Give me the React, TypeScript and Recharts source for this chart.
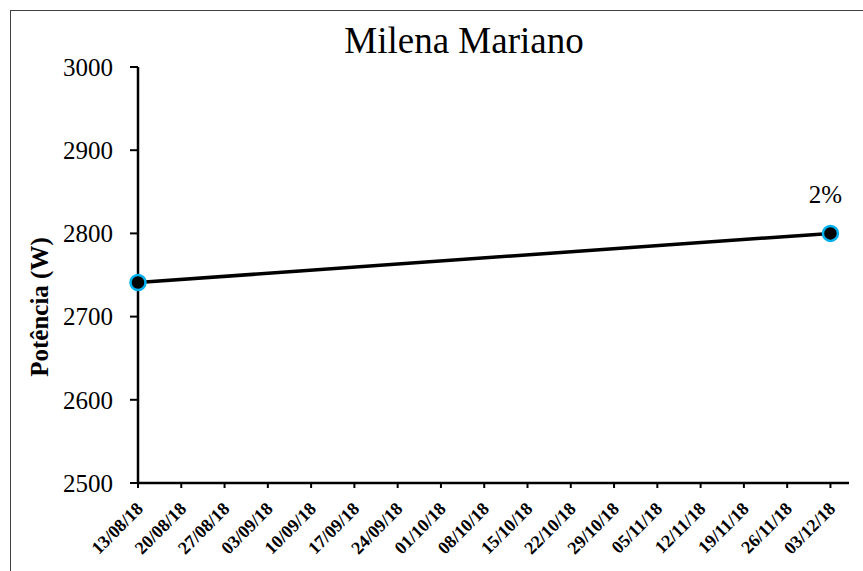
import React from 'react';
import {
  LineChart,
  Line,
  XAxis,
  YAxis,
  LabelList,
} from 'recharts';

// measurement dates (dd/mm/yy) and power readings
const dates = ['13/08/18', '03/12/18'];
const power = [2741, 2800];
const changeLabels = ['', '2%'];

const xTickLabels = [
  '13/08/18', '20/08/18', '27/08/18', '03/09/18', '10/09/18', '17/09/18',
  '24/09/18', '01/10/18', '08/10/18', '15/10/18', '22/10/18', '29/10/18',
  '05/11/18', '12/11/18', '19/11/18', '26/11/18', '03/12/18',
];
const yTicks = [2500, 2600, 2700, 2800, 2900, 3000];

const FONT = "'Liberation Serif', 'Times New Roman', serif";
const DAY = 24 * 3600 * 1000;

const toMs = (s: string) => {
  const [d, m, y] = s.split('/').map(Number);
  return Date.UTC(2000 + y, m - 1, d);
};
const start = toMs(xTickLabels[0]);
const toDay = (s: string) => Math.round((toMs(s) - start) / DAY);

const xTicks = xTickLabels.map(toDay);
const dayToLabel: Record<number, string> = {};
xTickLabels.forEach((l, i) => (dayToLabel[xTicks[i]] = l));

const chartData = dates.map((d, i) => ({
  day: toDay(d),
  value: power[i],
  label: changeLabels[i],
}));

const DateTick = (props: any) => {
  const { x, y, payload } = props;
  return (
    <g transform={`translate(${x},${y})`}>
      <text
        x={6}
        y={20}
        textAnchor="end"
        transform="rotate(-45, 6, 20)"
        style={{ fontFamily: FONT, fontWeight: 700, fontSize: 18, fill: '#000' }}
      >
        {dayToLabel[payload.value]}
      </text>
    </g>
  );
};

const PowerTick = (props: any) => {
  const { x, y, payload } = props;
  return (
    <text
      x={x}
      y={y}
      dy="0.35em"
      textAnchor="end"
      style={{ fontFamily: FONT, fontSize: 25, fill: '#000' }}
    >
      {payload.value}
    </text>
  );
};

const YTitle = (props: any) => {
  const vb = props.viewBox || { x: 0, y: 67, width: 138, height: 416 };
  const cx = 39;
  const cy = vb.y + vb.height / 2 + 32;
  return (
    <text
      x={cx}
      y={cy}
      textAnchor="middle"
      dominantBaseline="central"
      transform={`rotate(-90, ${cx}, ${cy})`}
      style={{ fontFamily: FONT, fontWeight: 700, fontSize: 25, fill: '#000' }}
    >
      Potência (W)
    </text>
  );
};

const PctLabel = (props: any) => {
  const { x, y, value } = props;
  if (!value) return null;
  return (
    <text
      x={x - 5}
      y={y - 30}
      textAnchor="middle"
      style={{ fontFamily: FONT, fontSize: 25, fill: '#000' }}
    >
      {value}
    </text>
  );
};

export default function App() {
  return (
    <div
      style={{
        position: 'relative',
        width: 863,
        height: 571,
        overflow: 'hidden',
        background: '#fff',
        fontFamily: FONT,
      }}
    >
      <style>{'body{margin:0}'}</style>
      <div
        style={{
          position: 'absolute',
          left: 10,
          top: 10,
          width: 900,
          height: 600,
          border: '1.5px solid #404040',
        }}
      />
      <svg width={863} height={571} style={{ position: 'absolute', left: 0, top: 0 }}>
        <text x={464} y={53} textAnchor="middle" style={{ fontFamily: FONT, fontSize: 37, fill: '#000' }}>
          Milena Mariano
        </text>
      </svg>
      <div style={{ position: 'absolute', left: 0, top: 0 }}>
        <LineChart
          width={863}
          height={571}
          data={chartData}
          margin={{ top: 67, right: 14, bottom: 28, left: 0 }}
        >
          <XAxis
            dataKey="day"
            type="number"
            domain={[0, 115]}
            ticks={xTicks}
            interval={0}
            height={60}
            tickSize={5}
            axisLine={{ stroke: '#000', strokeWidth: 2.5 }}
            tickLine={{ stroke: '#000', strokeWidth: 2 }}
            tick={<DateTick />}
          />
          <YAxis
            type="number"
            domain={[2500, 3000]}
            ticks={yTicks}
            interval={0}
            width={138}
            tickSize={8}
            tickMargin={17}
            axisLine={{ stroke: '#000', strokeWidth: 2.5 }}
            tickLine={{ stroke: '#000', strokeWidth: 2 }}
            tick={<PowerTick />}
            label={<YTitle />}
          />
          <Line
            dataKey="value"
            stroke="#000"
            strokeWidth={3.5}
            isAnimationActive={false}
            dot={{ r: 7.5, fill: '#000', stroke: '#00b0f0', strokeWidth: 2.5 }}
          >
            <LabelList dataKey="label" content={<PctLabel />} />
          </Line>
        </LineChart>
      </div>
    </div>
  );
}
